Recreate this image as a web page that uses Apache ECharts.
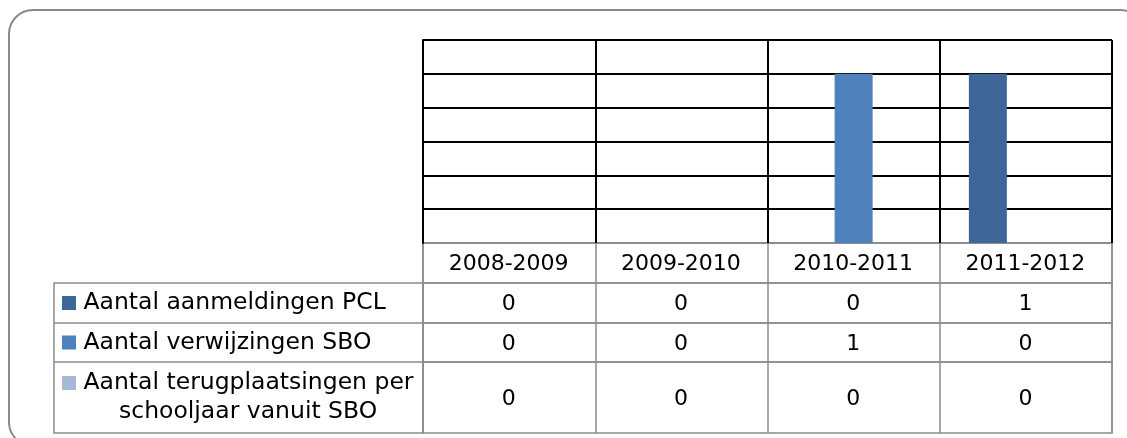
<!DOCTYPE html>
<html>
<head>
<meta charset="utf-8">
<script src="https://cdn.jsdelivr.net/npm/echarts@6/dist/echarts.min.js"></script>
<style>
html,body{margin:0;padding:0;background:#fff;}
#chart{width:1127px;height:438px;}
</style>
</head>
<body>
<div id="chart"></div>
<script>
// ---- data ----
const categories = ['2008-2009', '2009-2010', '2010-2011', '2011-2012'];
const seriesNames = ['Aantal aanmeldingen PCL', 'Aantal verwijzingen SBO', 'Aantal terugplaatsingen per schooljaar vanuit SBO'];
const aanmeldingenPCL = [0, 0, 0, 1];
const verwijzingenSBO = [0, 0, 1, 0];
const terugplaatsingenSBO = [0, 0, 0, 0];
const yTicks = [0, 0.2, 0.4, 0.6, 0.8, 1.0, 1.2];

// ---- styling / layout ----
const colors = ['#3E6698', '#4F81BD', '#A8B9D7'];
const FONT = 'DejaVu Sans';
const plotLeft = 423, plotRight = 15, plotTop = 40, plotHeight = 203;
const rowTops = [243, 283, 323, 362];
const rowHeights = [40, 40, 39, 71];
const labelLeft = 54;
const tableGray = '#8C8C8C';

const seriesData = [aanmeldingenPCL, verwijzingenSBO, terugplaatsingenSBO];

const chart = echarts.init(document.getElementById('chart'));

const grids = [{left: plotLeft, right: plotRight, top: plotTop, height: plotHeight}];
const xAxes = [{
  gridIndex: 0, type: 'category', data: categories,
  axisLine: {show: false}, axisTick: {show: false}, axisLabel: {show: false},
  splitLine: {show: true, interval: 0, lineStyle: {color: '#000', width: 2}}
}];
const yAxes = [{
  gridIndex: 0, type: 'value', min: yTicks[0], max: yTicks[yTicks.length - 1], interval: 0.2,
  axisLine: {show: true, lineStyle: {color: '#000', width: 2}},
  axisTick: {show: false}, axisLabel: {show: false},
  splitLine: {show: true, lineStyle: {color: [tableGray, '#000', '#000', '#000', '#000', '#000', '#000'], width: 2}}
}];
const series = seriesNames.map((n, i) => ({
  name: n, type: 'bar', xAxisIndex: 0, yAxisIndex: 0,
  data: seriesData[i], barWidth: 38, barGap: '0%',
  itemStyle: {color: colors[i]}
}));

// table rows: row 0 = header (categories), rows 1..3 = series values
const rowLabels = [''].concat(seriesNames);
for (let r = 0; r < 4; r++) {
  const gi = r + 1;
  grids.push({left: plotLeft, right: plotRight, top: rowTops[r], height: rowHeights[r],
    show: true, borderColor: tableGray, borderWidth: 1.5, backgroundColor: 'transparent'});
  xAxes.push({
    gridIndex: gi, type: 'category', data: categories,
    axisLine: {show: false}, axisTick: {show: false}, axisLabel: {show: false},
    splitLine: {show: true, interval: 0, lineStyle: {color: tableGray, width: 1.5}}
  });
  yAxes.push({
    gridIndex: gi, type: 'category', data: [rowLabels[r]],
    axisLine: {show: false}, axisTick: {show: false}, splitLine: {show: false},
    axisLabel: {
      show: r > 0, align: 'left', margin: plotLeft - 62,
      formatter: function (v) {
        if (r === 3) return '{sq' + r + '|}{t| Aantal terugplaatsingen per}\n{l2|schooljaar vanuit SBO}';
        return '{sq' + r + '|}{t| ' + v + '}';
      },
      rich: {
        sq1: {width: 14, height: 14, backgroundColor: colors[0]},
        sq2: {width: 14, height: 14, backgroundColor: colors[1]},
        sq3: {width: 14, height: 14, backgroundColor: colors[2]},
        t: {fontFamily: FONT, fontSize: 23.5, color: '#000', lineHeight: 29},
        l2: {fontFamily: FONT, fontSize: 23.5, color: '#000', lineHeight: 29, padding: [0, 0, 0, 57]}
      }
    }
  });
  const data = r === 0
    ? categories.map((c, j) => ({name: c, value: [j, 0]}))
    : seriesData[r - 1].map((v, j) => ({name: String(v), value: [j, 0]}));
  series.push({
    type: 'scatter', xAxisIndex: gi, yAxisIndex: gi, symbolSize: 1,
    itemStyle: {color: '#fff', opacity: 0}, silent: true,
    data: data,
    label: {show: true, position: [0, 0], align: 'center', verticalAlign: 'middle', offset: [0, 2],
      formatter: '{v|{b}}',
      rich: {v: {fontFamily: FONT, fontSize: 22, color: '#000', opacity: 1}}}
  });
}

// frame lines for the label column of the data table
const lastBottom = rowTops[3] + rowHeights[3];
const graphics = [
  {type: 'rect', shape: {x: 9, y: 10, width: 1135, height: 436, r: 24},
   style: {fill: 'none', stroke: '#8A8A8A', lineWidth: 2}, z: -1},
  {type: 'rect', shape: {x: labelLeft, y: rowTops[1], width: plotLeft - labelLeft, height: lastBottom - rowTops[1]},
   style: {fill: 'none', stroke: tableGray, lineWidth: 1.5}},
  {type: 'line', shape: {x1: labelLeft, y1: rowTops[2], x2: plotLeft, y2: rowTops[2]},
   style: {stroke: tableGray, lineWidth: 1.5}},
  {type: 'line', shape: {x1: labelLeft, y1: rowTops[3], x2: plotLeft, y2: rowTops[3]},
   style: {stroke: tableGray, lineWidth: 1.5}}
];

chart.setOption({
  animation: false,
  backgroundColor: '#fff',
  grid: grids, xAxis: xAxes, yAxis: yAxes, series: series,
  graphic: graphics
});
</script>
</body>
</html>
